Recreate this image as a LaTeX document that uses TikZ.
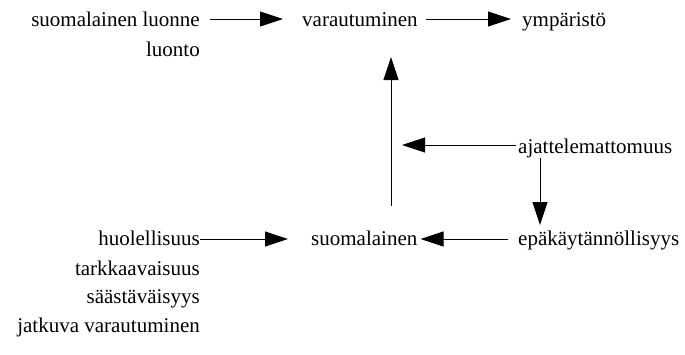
\documentclass[tikz,border=0pt]{standalone}
\usepackage{fontspec}
\setmainfont{Liberation Serif}
\newfontfamily\timesfam{Liberation Serif}
\usetikzlibrary{arrows.meta,calc}
\tikzset{
  lbl/.style={inner sep=0pt, font=\timesfam\fontsize{21}{25}\selectfont},
  arr/.style={draw=black, line width=0.9pt, -{Triangle[length=23pt,width=15pt]}}
}
\begin{document}
\begin{tikzpicture}[x=1pt,y=-1pt]
\useasboundingbox (0,0) rectangle (685,354);
\node[lbl, anchor=base east] (sl) at (200,26) {suomalainen luonne};
\node[lbl, anchor=base east] (lu) at (200,56) {luonto};
\node[lbl, anchor=base west] (va) at (302,26) {varautuminen};
\node[lbl, anchor=base west] (ym) at (522,26) {ympäristö};
\node[lbl, anchor=base west] (aj) at (518,153) {ajattelemattomuus};
\node[lbl, anchor=base west] (ep) at (518,245) {epäkäytännöllisyys};
\node[lbl, anchor=base west] (su) at (311,245) {suomalainen};
\node[lbl, anchor=base east] (hu) at (200,245) {huolellisuus};
\node[lbl, anchor=base east] (ta) at (200,275) {tarkkaavaisuus};
\node[lbl, anchor=base east] (sa) at (200,303) {säästäväisyys};
\node[lbl, anchor=base east] (ja) at (200,332) {jatkuva varautuminen};
% connectors
\draw[arr] ($(sl.base east)+(10,-7)$) -- ($(va.base west)+(-19,-7)$);
\draw[arr] ($(va.base east)+(8,-7)$) -- ($(ym.base west)+(-11,-7)$);
\draw[arr] ($(su.base west)+(80,-39)$) -- ($(va.base west)+(89,31)$);
\draw[arr] ($(aj.base west)+(-2,-8)$) -- ($(va.base west)+(100,119)$);
\draw[arr] ($(aj.base west)+(22,5)$) -- ($(ep.base west)+(22,-20)$);
\draw[arr] ($(ep.base west)+(-10,-6)$) -- ($(su.base east)+(3,-6)$);
\draw[arr] ($(hu.base east)+(0,-6)$) -- ($(su.base west)+(-23,-6)$);
\end{tikzpicture}
\end{document}
